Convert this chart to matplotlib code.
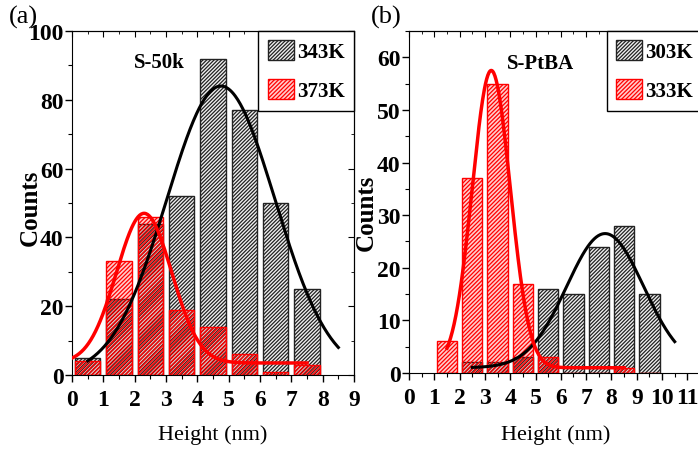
import numpy as np
import matplotlib.pyplot as plt
from matplotlib.ticker import MultipleLocator

plt.rcParams['font.family'] = ['Liberation Serif', 'DejaVu Serif']
plt.rcParams['hatch.linewidth'] = 0.9

# panel (a) S-50k
a_centers = [0.5, 1.5, 2.5, 3.5, 4.5, 5.5, 6.5, 7.5]
a_343K = [5, 22, 44, 52, 92, 77, 50, 25]
a_373K = [4, 33, 46, 19, 14, 6, 1, 3]
# gaussian fits (y0, A, xc, w) and drawn range
a_fit_343K = (0.0, 84.0, 4.75, 1.73)
a_fit_343K_range = (0.5, 8.5)
a_fit_373K = (3.5, 43.5, 2.3, 0.88)
a_fit_373K_range = (0.0, 7.5)

# panel (b) S-PtBA
b_centers = [1.5, 2.5, 3.5, 4.5, 5.5, 6.5, 7.5, 8.5, 9.5]
b_303K = [0, 2, 2, 3, 16, 15, 24, 28, 15]
b_333K = [6, 37, 55, 17, 3, 0, 0, 1, 0]
b_fit_303K = (1.0, 25.5, 7.75, 1.52)
b_fit_303K_range = (2.5, 10.5)
b_fit_333K = (1.0, 56.5, 3.25, 0.75)
b_fit_333K_range = (1.5, 8.5)

TICK_FS = 17
LEG = dict(loc='upper right', borderaxespad=0, fancybox=False, edgecolor='black',
           prop={'weight': 'bold', 'size': 15}, handlelength=1.25, handleheight=1.1,
           handletextpad=0.15, borderpad=0.45, labelspacing=0.8, framealpha=1)


def gauss(x, p):
    y0, A, xc, w = p
    return y0 + A * np.exp(-(x - xc) ** 2 / (2 * w ** 2))


def draw_panel(ax, centers, black_vals, red_vals, fit_k, rng_k, fit_r, rng_r, labels,
               right_ticks=True):
    ax.bar(centers, black_vals, width=0.8, color='#f0f0f0', edgecolor='#222222',
           hatch='/' * 9, linewidth=1.0, label=labels[0], zorder=2)
    ax.bar(centers, red_vals, width=0.8, color=(1, 0, 0, 0.2), edgecolor='red',
           hatch='/' * 8, linewidth=1.0, label=labels[1], zorder=3)
    xk = np.linspace(rng_k[0], rng_k[1], 300)
    ax.plot(xk, gauss(xk, fit_k), color='black', lw=2.2, zorder=4)
    xr = np.linspace(rng_r[0], rng_r[1], 300)
    ax.plot(xr, gauss(xr, fit_r), color='red', lw=2.5, zorder=5)

    ax.tick_params(which='both', direction='out', top=False, right=False)
    ax.tick_params(axis='x', pad=5)
    ax.tick_params(axis='y', pad=1)
    ax.tick_params(which='major', length=5, width=1)
    ax.tick_params(which='minor', length=3, width=0.8)
    for lab in ax.get_xticklabels() + ax.get_yticklabels():
        lab.set_fontweight('bold')
        lab.set_fontsize(TICK_FS)
    sx = ax.secondary_xaxis('top')
    sx.tick_params(which='both', direction='in', labeltop=False)
    sx.tick_params(which='major', length=4)
    sx.tick_params(which='minor', length=2)
    sx.xaxis.set_major_locator(MultipleLocator(1))
    sx.xaxis.set_minor_locator(MultipleLocator(0.5))
    sx.set_xticklabels([])
    sy = None
    if right_ticks:
        sy = ax.secondary_yaxis('right')
        sy.tick_params(which='both', direction='in', labelright=False)
        sy.tick_params(which='major', length=4)
        sy.tick_params(which='minor', length=2)
        sy.set_yticklabels([])
    return sx, sy


fig = plt.figure(figsize=(6.98, 4.56), dpi=100)

ax1 = fig.add_axes([0.1032, 0.1754, 0.404, 0.7544])
ax1.set_xlim(0, 9)
ax1.set_ylim(0, 100)
ax1.xaxis.set_major_locator(MultipleLocator(1))
ax1.xaxis.set_minor_locator(MultipleLocator(0.5))
ax1.yaxis.set_major_locator(MultipleLocator(20))
ax1.yaxis.set_minor_locator(MultipleLocator(10))
sx, sy = draw_panel(ax1, a_centers, a_343K, a_373K, a_fit_343K, a_fit_343K_range,
                    a_fit_373K, a_fit_373K_range, ['343K', '373K'])
sy.yaxis.set_major_locator(MultipleLocator(20))
sy.yaxis.set_minor_locator(MultipleLocator(10))
ax1.set_xlabel('Height (nm)', fontsize=16)
ax1.xaxis.set_label_coords(0.5, -0.142)
ax1.set_ylabel('Counts', fontsize=18, fontweight='bold')
ax1.yaxis.set_label_coords(-0.106, 0.49)
ax1.text(2.8, 91, 'S-50k', fontsize=15, fontweight='bold', ha='center', va='center')
ax1.legend(**LEG)
fig.text(0.012, 0.962, '(a)', fontsize=19, ha='left', va='center')

ax2 = fig.add_axes([0.586, 0.1798, 0.4205, 0.75])
ax2.set_xlim(0, 11.6)
ax2.set_ylim(0, 65)
ax2.xaxis.set_major_locator(MultipleLocator(1))
ax2.xaxis.set_minor_locator(MultipleLocator(0.5))
ax2.yaxis.set_major_locator(MultipleLocator(10))
ax2.yaxis.set_minor_locator(MultipleLocator(5))
draw_panel(ax2, b_centers, b_303K, b_333K, b_fit_303K, b_fit_303K_range,
           b_fit_333K, b_fit_333K_range, ['303K', '333K'], right_ticks=False)
ax2.set_xlabel('Height (nm)', fontsize=16)
ax2.xaxis.set_label_coords(0.5, -0.149)
ax2.set_ylabel('Counts', fontsize=18, fontweight='bold')
ax2.yaxis.set_label_coords(-0.106, 0.47)
ax2.text(5.2, 59, 'S-PtBA', fontsize=15, fontweight='bold', ha='center', va='center')
ax2.legend(**LEG)
fig.text(0.532, 0.962, '(b)', fontsize=19, ha='left', va='center')

fig.savefig('out.png', dpi=100)
